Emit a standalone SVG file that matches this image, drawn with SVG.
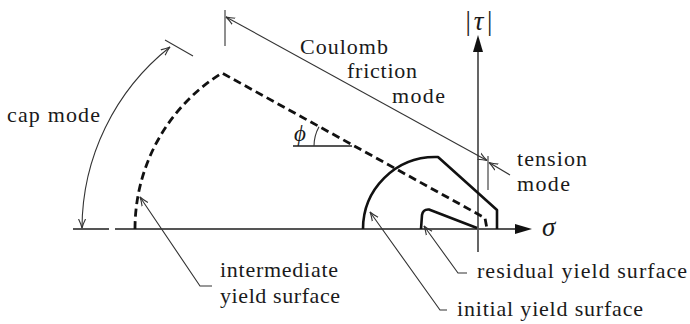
<svg xmlns="http://www.w3.org/2000/svg" width="690" height="324" viewBox="0 0 690 324">
  <defs>
    <style>
      .axis { stroke: #555; stroke-width: 1.8; fill: none; }
      .surf { stroke: #111; stroke-width: 2.6; fill: none; stroke-linejoin: round; }
      .dash { stroke: #111; stroke-width: 2.8; fill: none; stroke-dasharray: 8 4.5; }
      .thin { stroke: #333; stroke-width: 1.1; fill: none; }
      .ref { stroke: #555; stroke-width: 1.8; fill: none; }
      .lbl { font-family: "Liberation Serif", "DejaVu Serif", serif; font-size: 22px; fill: #1a1a1a; }
      .math { font-family: "Liberation Serif", "DejaVu Serif", serif; font-style: italic; fill: #1a1a1a; }
    </style>
    <marker id="arr" markerUnits="userSpaceOnUse" markerWidth="12" markerHeight="10" refX="9" refY="4" orient="auto-start-reverse" viewBox="0 0 12 8">
      <path d="M0,0.5 Q5,3 9,4 Q5,5 0,7.5" fill="none" stroke="#333" stroke-width="1.1"/>
    </marker>
  </defs>

  <g id="axes">
    <line class="axis" x1="73" y1="229" x2="109" y2="229"/>
    <line class="axis" x1="115" y1="229" x2="518" y2="229"/>
    <polygon points="532,229 515,224 515,234" fill="#111"/>
    <line class="axis" x1="478" y1="252" x2="478" y2="50"/>
    <polygon points="478,35 473,52 483,52" fill="#111"/>
  </g>

  <g id="intermediate-surface">
    <path class="dash" d="M135,229 A183,183 0 0 1 222,73 L485,218 L487,229"/>
  </g>
  <g id="initial-surface">
    <path class="surf" d="M363,229 A72,72 0 0 1 435,157 L438,157 L497,210 L497,229"/>
  </g>
  <g id="residual-surface">
    <path class="surf" d="M421,229 L422,215 Q423,209 429,209.5 L477,228"/>
  </g>

  <g id="connectors">
    <!-- phi angle -->
    <line class="ref" x1="293" y1="146" x2="352" y2="146"/>
    <path class="thin" d="M314,146 A40,40 0 0 1 319,126.7"/>
    <!-- cap mode -->
    <line class="thin" x1="165" y1="40" x2="193" y2="56"/>
    <path class="thin" d="M82,228 A232,232 0 0 1 170,47" marker-start="url(#arr)" marker-end="url(#arr)"/>
    <!-- Coulomb friction mode -->
    <line class="thin" x1="225" y1="10" x2="225" y2="46"/>
    <line class="thin" x1="226" y1="17" x2="487" y2="160.5" marker-start="url(#arr)" marker-end="url(#arr)"/>
    <!-- tension mode -->
    <line class="thin" x1="488" y1="156" x2="488" y2="190"/>
    <line class="thin" x1="510" y1="175" x2="489" y2="162.5" marker-end="url(#arr)"/>
    <!-- leaders -->
    <polyline class="thin" points="212,286 200,286 140,197" marker-end="url(#arr)"/>
    <polyline class="thin" points="447,310 440,310 370,212" marker-end="url(#arr)"/>
    <polyline class="thin" points="467,273 458,273 424,226" marker-end="url(#arr)"/>
  </g>

  <g id="labels">
    <text class="lbl" x="7" y="122" textLength="93">cap mode</text>
    <text class="lbl" x="300" y="54" textLength="88">Coulomb</text>
    <text class="lbl" x="347" y="78" textLength="70">friction</text>
    <text class="lbl" x="392" y="103" textLength="53">mode</text>
    <text class="lbl" x="517" y="166" textLength="70">tension</text>
    <text class="lbl" x="517" y="191" textLength="53">mode</text>
    <text class="lbl" x="220" y="277" textLength="118">intermediate</text>
    <text class="lbl" x="220" y="303" textLength="120">yield surface</text>
    <text class="lbl" x="477" y="278" textLength="210">residual yield surface</text>
    <text class="lbl" x="457" y="316" textLength="186">initial yield surface</text>
    <text class="math" x="294" y="141" font-size="23">ϕ</text>
    <text class="math" x="542" y="236" font-size="27">σ</text>
    <text class="math" x="464" y="30" font-size="27" textLength="29">|τ|</text>
  </g>
</svg>
